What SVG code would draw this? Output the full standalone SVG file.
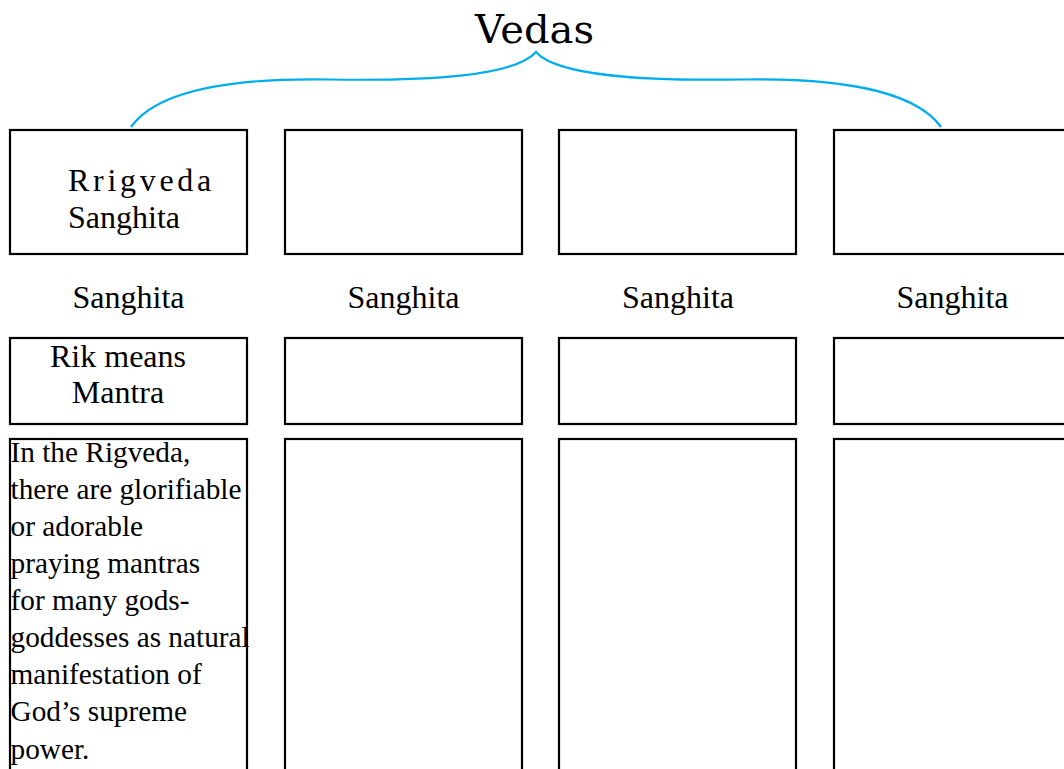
<svg xmlns="http://www.w3.org/2000/svg" width="1064" height="769" viewBox="0 0 1064 769">
<style>
.box{fill:#fff;stroke:#000;stroke-width:2.2}
.t{font-family:"Liberation Serif","Times New Roman",serif;fill:#000;font-size:32px}
.b{font-family:"Liberation Serif","Times New Roman",serif;fill:#000;font-size:29.3px}
.title{font-family:"DejaVu Serif",serif;font-size:40px;fill:#000}
.brace{fill:none;stroke:#00aeef;stroke-width:2.2}
</style>
<rect width="1064" height="769" fill="#fff"/>
<text class="title" x="534.5" y="43" text-anchor="middle">Vedas</text>
<g id="connectors">
<path class="brace" d="M131,127 C160,86 250,78 330,79.5 C430,81 515,76 536,52 C557,76 642,81 741,79.5 C821,78 912,86 941,127"/>
</g>
<g id="col1-head"><rect class="box" x="10" y="130" width="237" height="124"/>
<text class="t" x="68" y="190.5" letter-spacing="3.7">Rrigveda</text>
<text class="t" x="68" y="228.3">Sanghita</text></g>
<g id="col2-head"><rect class="box" x="285" y="130" width="237" height="124"/></g>
<g id="col3-head"><rect class="box" x="559" y="130" width="237" height="124"/></g>
<g id="col4-head"><rect class="box" x="834" y="130" width="237" height="124"/></g>
<g id="labels">
<text class="t" x="128.5" y="308.3" text-anchor="middle">Sanghita</text>
<text class="t" x="403.5" y="308.3" text-anchor="middle">Sanghita</text>
<text class="t" x="678" y="308.3" text-anchor="middle">Sanghita</text>
<text class="t" x="952.5" y="308.3" text-anchor="middle">Sanghita</text>
</g>
<g id="col1-mid"><rect class="box" x="10" y="338" width="237" height="86"/>
<text class="t" x="118" y="366.7" text-anchor="middle">Rik means</text>
<text class="t" x="118" y="403.3" text-anchor="middle">Mantra</text></g>
<g id="col2-mid"><rect class="box" x="285" y="338" width="237" height="86"/></g>
<g id="col3-mid"><rect class="box" x="559" y="338" width="237" height="86"/></g>
<g id="col4-mid"><rect class="box" x="834" y="338" width="237" height="86"/></g>
<g id="col1-body"><rect class="box" x="10" y="439" width="237" height="360"/>
<text class="b" x="10.5">
<tspan x="10.5" y="461.7">In the Rigveda,</tspan>
<tspan x="10.5" y="498.8">there are glorifiable</tspan>
<tspan x="10.5" y="535.9">or adorable</tspan>
<tspan x="10.5" y="573">praying mantras</tspan>
<tspan x="10.5" y="610.1">for many gods-</tspan>
<tspan x="10.5" y="647.2">goddesses as natural</tspan>
<tspan x="10.5" y="684.3">manifestation of</tspan>
<tspan x="10.5" y="721.4">God’s supreme</tspan>
<tspan x="10.5" y="758.5">power.</tspan>
</text></g>
<g id="col2-body"><rect class="box" x="285" y="439" width="237" height="360"/></g>
<g id="col3-body"><rect class="box" x="559" y="439" width="237" height="360"/></g>
<g id="col4-body"><rect class="box" x="834" y="439" width="237" height="360"/></g>
</svg>
